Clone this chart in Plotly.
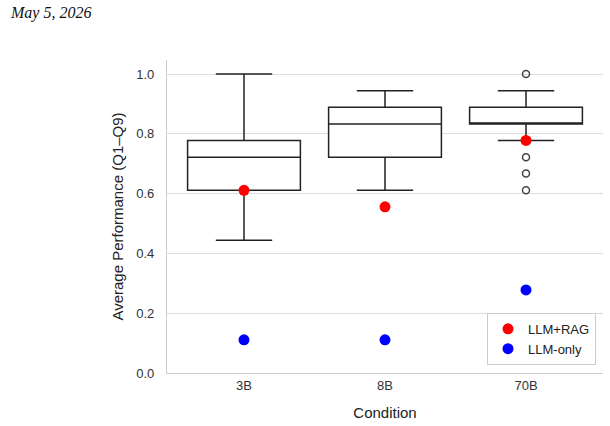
import plotly.graph_objects as go

conditions = ["3B", "8B", "70B"]
positions = [0, 1, 2]
q1 = [0.611, 0.722, 0.833]
median = [0.722, 0.833, 0.833]
q3 = [0.778, 0.889, 0.889]
lower_whisker = [0.444, 0.611, 0.778]
upper_whisker = [1.0, 0.944, 0.944]

outlier_x = [2, 2, 2, 2]
outlier_y = [1.0, 0.722, 0.667, 0.611]

rag_scores = [0.611, 0.556, 0.778]
only_scores = [0.111, 0.111, 0.278]

fig = go.Figure()

fig.add_trace(go.Box(
    x=positions, q1=q1, median=median, q3=q3,
    lowerfence=lower_whisker, upperfence=upper_whisker,
    width=0.8, whiskerwidth=0.5,
    fillcolor="white", line=dict(color="#222222", width=1.5),
    boxpoints=False, showlegend=False, hoverinfo="skip",
))

fig.add_trace(go.Scatter(
    x=outlier_x, y=outlier_y, mode="markers", showlegend=False,
    marker=dict(symbol="circle-open", size=7, color="#444444", line=dict(width=1.5)),
    hoverinfo="skip",
))

fig.add_trace(go.Scatter(
    x=positions, y=rag_scores, mode="markers", name="LLM+RAG",
    marker=dict(color="red", size=11),
))
fig.add_trace(go.Scatter(
    x=positions, y=only_scores, mode="markers", name="LLM-only",
    marker=dict(color="blue", size=11),
))

fig.update_layout(
    width=610, height=426,
    margin=dict(l=167, r=7, t=60, b=53),
    paper_bgcolor="white", plot_bgcolor="white",
    font=dict(family="Arial, Liberation Sans, sans-serif", size=13, color="#333333"),
    xaxis=dict(
        range=[-0.546, 2.546], tickmode="array", tickvals=positions, ticktext=conditions,
        showgrid=False, zeroline=False, showline=True, linecolor="#cccccc", linewidth=1.2,
        ticks="", title=dict(text="Condition", font=dict(size=15, color="#222222"), standoff=15),
        tickfont=dict(size=13, color="#333333"),
    ),
    yaxis=dict(
        range=[0, 1.047], tickmode="array", tickvals=[0, 0.2, 0.4, 0.6, 0.8, 1.0],
        tickformat=".1f", showgrid=True, gridcolor="#dddddd", gridwidth=1,
        zeroline=False, showline=True, linecolor="#cccccc", linewidth=1.2, ticks="",
        ticklabelstandoff=9,
        title=dict(text="Average Performance (Q1–Q9)", font=dict(size=15, color="#222222"), standoff=8),
        tickfont=dict(size=13, color="#333333"),
    ),
    legend=dict(
        x=0.984, y=0.026, xanchor="right", yanchor="bottom",
        bordercolor="#cccccc", borderwidth=1, bgcolor="white",
        font=dict(size=13, color="#222222"), tracegroupgap=0,
    ),
    annotations=[dict(
        text="<i>May 5, 2026</i>", xref="paper", yref="paper", x=-159/436, y=1 + 47/313,
        xanchor="left", yanchor="middle", showarrow=False,
        font=dict(family="Liberation Serif, Times New Roman, serif", size=16, color="#111111"),
    )],
)

fig.write_html("out.html")
